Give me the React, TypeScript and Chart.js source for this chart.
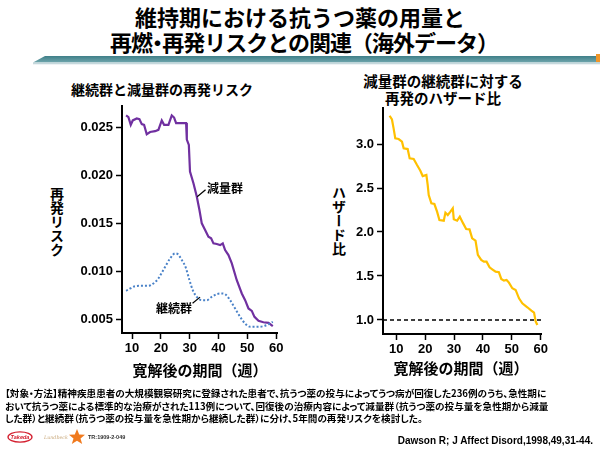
import React, { useEffect, useRef } from 'react';
import { Chart, registerables } from 'chart.js';

Chart.register(...registerables);

// ---------- data ----------
const X_TICKS = [10, 20, 30, 40, 50, 60];
const LEFT_Y_TICKS = [0.005, 0.01, 0.015, 0.02, 0.025];
const RIGHT_Y_TICKS = [1.0, 1.5, 2.0, 2.5, 3.0];

// 減量群 (reduced-dose group) relapse risk
const REDUCED_X = [7.92, 8.73, 9.54, 10.23, 11.62, 12.55, 13.36, 14.17, 15.09, 16.25, 17.99, 19.14, 20.3, 21.11, 22.62, 23.77, 24.58, 25.28, 26.67, 27.82, 28.75, 29.0, 29.7, 30.1, 31.3, 32.45, 33.38, 34.19, 35.35, 36.5, 37.43, 38.24, 39.4, 40.56, 41.48, 42.29, 43.45, 44.61, 46.34, 48.08, 49.24, 50.39, 51.55, 52.48, 53.87, 55.6, 57.34, 58.84];
const REDUCED_Y = [0.02622, 0.02604, 0.02524, 0.0257, 0.0259, 0.02583, 0.02531, 0.02524, 0.02427, 0.0245, 0.02458, 0.02472, 0.0257, 0.02524, 0.02524, 0.02622, 0.026, 0.02542, 0.02542, 0.02542, 0.02542, 0.0237, 0.02315, 0.02038, 0.01917, 0.01778, 0.01639, 0.015, 0.01431, 0.01361, 0.01344, 0.01292, 0.01285, 0.01274, 0.01292, 0.01222, 0.0117, 0.01083, 0.00909, 0.00771, 0.00701, 0.00615, 0.0059, 0.00528, 0.00486, 0.00472, 0.00465, 0.00431];

// 継続群 (continued-dose group) relapse risk
const CONT_X = [7.92, 9.31, 11.04, 12.78, 15.67, 17.41, 19.14, 20.3, 21.81, 23.19, 24.93, 25.86, 27.25, 28.63, 29.91, 31.06, 32.45, 34.19, 35.93, 37.66, 39.4, 41.13, 42.29, 44.03, 45.76, 47.5, 49.24, 50.97, 53.29, 55.6, 57.34, 58.84];
const CONT_Y = [0.00799, 0.00823, 0.00847, 0.0085, 0.0085, 0.00875, 0.00927, 0.00986, 0.01066, 0.01135, 0.01187, 0.0118, 0.01118, 0.0104, 0.0091, 0.00806, 0.00736, 0.00701, 0.00701, 0.00736, 0.00764, 0.00771, 0.00764, 0.00701, 0.00615, 0.00528, 0.00458, 0.00424, 0.00424, 0.00431, 0.00451, 0.00476];

// ハザード比
const HR_X = [7.69, 8.5, 9.07, 9.65, 10.81, 11.97, 12.55, 13.94, 14.63, 16.02, 17.18, 18.33, 19.14, 20.42, 20.88, 21.23, 22.15, 23.19, 24.12, 24.93, 26.44, 27.01, 27.82, 28.75, 29.56, 29.91, 31.06, 31.99, 33.15, 34.19, 35.35, 36.27, 37.43, 38.24, 39.4, 40.32, 41.25, 42.29, 43.22, 44.38, 45.53, 46.34, 47.27, 48.19, 49.0, 50.16, 51.32, 52.48, 53.63, 55.37, 56.76, 57.69, 58.27, 58.84];
const HR_Y = [3.322, 3.28, 3.178, 3.064, 3.057, 3.027, 2.951, 2.943, 2.837, 2.83, 2.761, 2.697, 2.636, 2.648, 2.534, 2.42, 2.326, 2.318, 2.231, 2.136, 2.129, 2.22, 2.193, 2.231, 2.269, 2.144, 2.129, 2.174, 2.098, 2.034, 2.03, 1.928, 1.902, 1.739, 1.682, 1.663, 1.663, 1.598, 1.576, 1.549, 1.542, 1.466, 1.447, 1.455, 1.424, 1.36, 1.341, 1.246, 1.189, 1.144, 1.106, 1.083, 0.981, 0.943];

const REF_X = [5.4, 60.1];
const REF_Y = [1.0, 1.0];

const TITLE_LINE1 = '維持期における抗うつ薬の用量と';
const TITLE_LINE2 = ['再燃', '・', '再発リスクとの関連（海外データ）'];
const LEFT_TITLE = '継続群と減量群の再発リスク';
const RIGHT_TITLE = ['減量群の継続群に対する', '再発のハザード比'];
const LEFT_YTITLE = '再発リスク';
const RIGHT_YTITLE = 'ハザード比';
const XTITLE = '寛解後の期間（週）';
const LABEL_REDUCED = '減量群';
const LABEL_CONT = '継続群';
const NOTE_LINES = [
  '【対象・方法】精神疾患患者の大規模観察研究に登録された患者で、抗うつ薬の投与によってうつ病が回復した236例のうち、急性期に',
  'おいて抗うつ薬による標準的な治療がされた113例について、回復後の治療内容によって減量群（抗うつ薬の投与量を急性期から減量',
  'した群）と継続群（抗うつ薬の投与量を急性期から継続した群）に分け、5年間の再発リスクを検討した。',
];
const CITATION = 'Dawson R; J Affect Disord,1998,49,31-44.';
const TR_CODE = 'TR:1909-2-049';

// ---------- helpers ----------
const CJK = '"Noto Sans CJK JP", "Noto Sans CJK SC", sans-serif';
const LAT = '"Liberation Sans", Arial, sans-serif';
const TICK_FONT = { family: LAT, size: 13, weight: 'bold' as const };

const pts = (xs: number[], ys: number[]) => xs.map((x, i) => ({ x, y: ys[i] }));

function xAxis(min: number, max: number, height: number) {
  return {
    type: 'linear',
    min,
    max,
    afterBuildTicks: (s: any) => { s.ticks = X_TICKS.map((v) => ({ value: v })); },
    afterFit: (s: any) => { s.height = height; s.paddingLeft = 0; s.paddingRight = 0; },
    grid: { display: true, drawOnChartArea: false, drawTicks: true, tickLength: 6, tickWidth: 1.5, tickColor: '#000', color: '#000' },
    border: { display: true, color: '#000', width: 2 },
    ticks: { color: '#000', font: TICK_FONT, padding: 2, maxRotation: 0, autoSkip: false, callback: (v: any) => String(v) },
  };
}

function yAxis(min: number, max: number, width: number, values: number[], digits: number) {
  return {
    type: 'linear',
    min,
    max,
    afterBuildTicks: (s: any) => { s.ticks = values.map((v) => ({ value: v })); },
    afterFit: (s: any) => { s.width = width; s.paddingTop = 0; s.paddingBottom = 0; },
    grid: { display: true, drawOnChartArea: false, drawTicks: true, tickLength: 6, tickWidth: 1.5, tickColor: '#000', color: '#000' },
    border: { display: true, color: '#000', width: 2 },
    ticks: { color: '#000', font: TICK_FONT, padding: 3, autoSkip: false, callback: (v: any) => Number(v).toFixed(digits) },
  };
}

// annotation labels in data coordinates (left chart)
const ANNOTS = [
  { text: LABEL_REDUCED, align: 'left', tx: 36.0, ty: 0.01868, lx1: 35.5, ly1: 0.0185, lx2: 32.6, ly2: 0.01776 },
  { text: LABEL_CONT, align: 'right', tx: 30.8, ty: 0.00618, lx1: 31.0, ly1: 0.0067, lx2: 33.6, ly2: 0.00733 },
];

const annotPlugin = {
  id: 'annot',
  afterDatasetsDraw(chart: any) {
    const { ctx } = chart;
    const x = chart.scales.x;
    const y = chart.scales.y;
    ctx.save();
    ctx.font = `bold 12px ${CJK}`;
    ctx.fillStyle = '#000';
    ctx.strokeStyle = '#000';
    ctx.lineWidth = 1.2;
    ctx.textBaseline = 'middle';
    for (const a of ANNOTS) {
      ctx.textAlign = a.align;
      ctx.fillText(a.text, x.getPixelForValue(a.tx), y.getPixelForValue(a.ty));
      ctx.beginPath();
      ctx.moveTo(x.getPixelForValue(a.lx1), y.getPixelForValue(a.ly1));
      ctx.lineTo(x.getPixelForValue(a.lx2), y.getPixelForValue(a.ly2));
      ctx.stroke();
    }
    ctx.restore();
  },
};

function LeftChart() {
  const ref = useRef<HTMLCanvasElement>(null);
  useEffect(() => {
    const chart = new Chart(ref.current!, {
      type: 'line',
      data: {
        datasets: [
          {
            data: pts(CONT_X, CONT_Y),
            borderColor: '#4a82c8',
            borderWidth: 2,
            borderDash: [2, 2],
            pointRadius: 0,
            cubicInterpolationMode: 'monotone',
          },
          {
            data: pts(REDUCED_X, REDUCED_Y),
            borderColor: '#7030a0',
            borderWidth: 2.2,
            pointRadius: 0,
            tension: 0,
          },
        ],
      },
      options: {
        responsive: false,
        animation: false,
        devicePixelRatio: 1,
        layout: { padding: { top: 6, right: 13, left: 0, bottom: 0 } },
        plugins: { legend: { display: false }, tooltip: { enabled: false } },
        scales: {
          x: xAxis(6.5, 60.3, 27) as any,
          y: yAxis(0.0036, 0.0272, 52, LEFT_Y_TICKS, 3) as any,
        },
      } as any,
      plugins: [annotPlugin as any],
    });
    return () => chart.destroy();
  }, []);
  return <canvas ref={ref} width={220} height={260} style={{ position: 'absolute', left: 70, top: 100 }} />;
}

function RightChart() {
  const ref = useRef<HTMLCanvasElement>(null);
  useEffect(() => {
    const chart = new Chart(ref.current!, {
      type: 'line',
      data: {
        datasets: [
          {
            data: pts(REF_X, REF_Y),
            borderColor: '#000',
            borderWidth: 1.5,
            borderDash: [4, 3],
            pointRadius: 0,
          },
          {
            data: pts(HR_X, HR_Y),
            borderColor: '#ffc000',
            borderWidth: 2.2,
            pointRadius: 0,
            tension: 0,
          },
        ],
      },
      options: {
        responsive: false,
        animation: false,
        devicePixelRatio: 1,
        layout: { padding: { top: 8, right: 19, left: 0, bottom: 0 } },
        plugins: { legend: { display: false }, tooltip: { enabled: false } },
        scales: {
          x: xAxis(5.4, 60.1, 26) as any,
          y: yAxis(0.84, 3.41, 43, RIGHT_Y_TICKS, 1) as any,
        },
      } as any,
    });
    return () => chart.destroy();
  }, []);
  return <canvas ref={ref} width={220} height={260} style={{ position: 'absolute', left: 340, top: 100 }} />;
}

const abs = (o: React.CSSProperties): React.CSSProperties => ({ position: 'absolute', ...o });

export default function App() {
  return (
    <div style={{ position: 'absolute', left: 0, top: 0, width: 600, height: 450, background: '#fff', overflow: 'hidden', fontFamily: CJK, color: '#000' }}>
      {/* main title */}
      <div style={abs({ left: 0, top: 4, width: 600, textAlign: 'center', fontSize: 22, lineHeight: '25px', fontWeight: 'bold' })}>
        <div>{TITLE_LINE1}</div>
        <div style={{ letterSpacing: '-1px', paddingLeft: 8 }}>
          {TITLE_LINE2[0]}
          <span style={{ fontFeatureSettings: '"palt"' }}>{TITLE_LINE2[1]}</span>
          {TITLE_LINE2[2]}
        </div>
      </div>
      {/* title band */}
      <svg width={600} height={14} style={abs({ left: 0, top: 52 })}>
        <defs>
          <linearGradient id="band" x1="0" y1="0" x2="0" y2="1">
            <stop offset="0" stopColor="#3f7f88" />
            <stop offset="1" stopColor="#6fa6ad" />
          </linearGradient>
        </defs>
        <polygon points="45,4 600,4 600,10.5 33,10.5" fill="url(#band)" />
        <rect x={33} y={10.5} width={567} height={1.8} fill="#c5d8dc" />
        <rect x={596} y={2} width={4} height={8} fill="#f0962a" />
      </svg>

      {/* chart titles */}
      <div style={abs({ left: 62, top: 80, width: 200, textAlign: 'center', fontSize: 14, lineHeight: '18px', fontWeight: 'bold', whiteSpace: 'nowrap' })}>{LEFT_TITLE}</div>
      <div style={abs({ left: 343, top: 73, width: 200, textAlign: 'center', fontSize: 14.5, lineHeight: '16.5px', fontWeight: 'bold', whiteSpace: 'nowrap' })}>
        {RIGHT_TITLE.map((t, i) => <div key={i}>{t}</div>)}
      </div>

      {/* y titles */}
      <div style={abs({ left: 50, top: 187, writingMode: 'vertical-rl', textOrientation: 'upright', fontSize: 14, lineHeight: '14px', fontWeight: 'bold' })}>{LEFT_YTITLE}</div>
      <div style={abs({ left: 332, top: 186, writingMode: 'vertical-rl', textOrientation: 'upright', fontSize: 14, lineHeight: '14px', fontWeight: 'bold' })}>{RIGHT_YTITLE}</div>

      <LeftChart />
      <RightChart />

      {/* x titles */}
      <div style={abs({ left: 100, top: 360, width: 200, textAlign: 'center', fontSize: 15, lineHeight: '20px', fontWeight: 'bold', whiteSpace: 'nowrap' })}>{XTITLE}</div>
      <div style={abs({ left: 361, top: 358, width: 200, textAlign: 'center', fontSize: 15, lineHeight: '20px', fontWeight: 'bold', whiteSpace: 'nowrap' })}>{XTITLE}</div>

      {/* note */}
      <div style={abs({ left: 5, top: 387, fontSize: 9.6, lineHeight: '12.5px', fontWeight: 'bold', whiteSpace: 'nowrap', fontFeatureSettings: '"palt"' })}>
        {NOTE_LINES.map((t, i) => <div key={i}>{t}</div>)}
      </div>

      {/* logos */}
      <svg width={140} height={20} style={abs({ left: 0, top: 428 })}>
        <ellipse cx={20} cy={9} rx={12} ry={5.2} fill="#fff" stroke="#d42030" strokeWidth={1.3} />
        <text x={20} y={11} textAnchor="middle" fontSize={5.5} fontStyle="italic" fontWeight="bold" fill="#d42030" fontFamily={LAT}>Takeda</text>
        <text x={44} y={11} fontSize={4.8} fontStyle="italic" fill="#c9a97c" fontFamily='"DejaVu Serif", serif'>Lundbeck</text>
        <polygon points="77,1 79.2,6.5 85,6.8 80.5,10.5 82.2,16 77,12.8 71.8,16 73.5,10.5 69,6.8 74.8,6.5" fill="#f07a1e" />
        <text x={88} y={11} fontSize={5.5} fontWeight="bold" fill="#333" fontFamily={LAT}>{TR_CODE}</text>
      </svg>
      <div style={abs({ right: 7, top: 434, fontSize: 10, lineHeight: '14px', fontWeight: 'bold', fontFamily: LAT, whiteSpace: 'nowrap' })}>{CITATION}</div>
    </div>
  );
}
